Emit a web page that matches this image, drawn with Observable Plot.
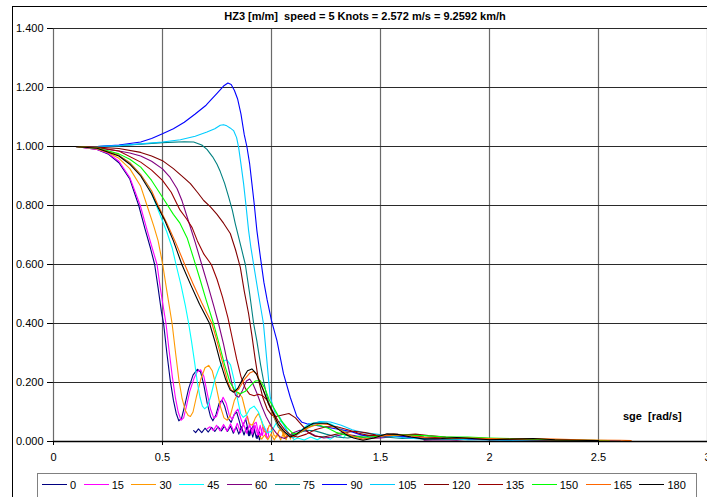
<!DOCTYPE html>
<html><head><meta charset="utf-8">
<script src="https://cdn.jsdelivr.net/npm/d3@7"></script>
<script src="https://cdn.jsdelivr.net/npm/@observablehq/plot@0.6"></script>
<style>
body{margin:0;background:#fff;font-family:"Liberation Sans",Arial,sans-serif;}
#wrap{position:relative;width:707px;height:497px;overflow:hidden;background:#fff;}
#frame{position:absolute;left:12px;top:6px;width:730px;height:530px;border:1px solid #000;box-sizing:border-box;}
#title{position:absolute;top:10px;left:0;width:730px;text-align:center;font-weight:bold;font-size:11px;color:#000;}
#chart{position:absolute;left:0;top:0;}
#xlab{position:absolute;left:623px;top:410px;font-weight:bold;font-size:11px;color:#000;}
#legend{position:absolute;left:37px;top:473px;width:660px;height:30px;border:1px solid #808080;box-sizing:border-box;background:#fff;}
#legend .row{display:flex;align-items:center;height:21px;padding-left:4px;}
#legend .item{display:flex;align-items:center;margin-right:7.5px;font-size:11px;color:#000;}
#legend .sw{width:25px;height:0;border-top:1px solid;margin-right:3px;}
</style></head>
<body>
<div id="wrap">
  <div id="frame"></div>
  <div id="chart"></div>
  <div id="title">HZ3 [m/m]&nbsp; speed = 5 Knots = 2.572 m/s = 9.2592 km/h</div>
  <div id="xlab">sge&nbsp; [rad/s]</div>
  <div id="legend"><div class="row" id="legrow"></div></div>
</div>
<script>
const headings = [0, 15, 30, 45, 60, 75, 90, 105, 120, 135, 150, 165, 180];
const colors = ["#000080","#FF00FF","#FF9900","#00FFFF","#800080","#008080","#0000FF","#00CCFF","#800000","#990000","#00FF00","#FF6600","#000000"];
const xTicks = [0, 0.5, 1, 1.5, 2, 2.5, 3];
const yTicks = [0, 0.2, 0.4, 0.6, 0.8, 1.0, 1.2, 1.4];

const s0 = [[0,1],[0.1,1],[0.2,0.99],[0.25,0.975],[0.3,0.945],[0.35,0.89],[0.391,0.80],[0.42,0.72],[0.445,0.655],[0.464,0.60],[0.48,0.52],[0.495,0.44],[0.505,0.40],[0.52,0.30],[0.535,0.21],[0.55,0.14],[0.563,0.095],[0.575,0.07],[0.588,0.08],[0.603,0.125],[0.62,0.18],[0.64,0.225],[0.66,0.245],[0.675,0.235],[0.69,0.19],[0.705,0.13],[0.72,0.085],[0.731,0.07],[0.745,0.09],[0.76,0.13],[0.773,0.14],[0.785,0.12],[0.80,0.08],[0.815,0.065],[0.828,0.09],[0.84,0.10],[0.852,0.07],[0.862,0.04],[0.872,0.06],[0.882,0.075],[0.892,0.04],[0.90,0.02],[0.91,0.045],[0.918,0.055],[0.926,0.025],[0.934,0.01],[0.942,0.035],[0.95,0.02],
 [0.945,0.005],[0.938,0.03],[0.93,0.012],[0.922,0.04],[0.914,0.015],[0.905,0.045],[0.895,0.02],[0.885,0.048],[0.874,0.022],[0.862,0.05],[0.85,0.025],[0.838,0.05],[0.825,0.028],[0.812,0.052],[0.798,0.034],[0.784,0.052],[0.77,0.036],[0.755,0.05],[0.74,0.034],[0.725,0.048],[0.71,0.032],[0.695,0.045],[0.68,0.03],[0.665,0.043],[0.652,0.03],[0.643,0.037]];
const s15 = [[0,1],[0.1,1],[0.2,0.99],[0.25,0.977],[0.3,0.95],[0.35,0.895],[0.398,0.80],[0.43,0.715],[0.455,0.65],[0.475,0.60],[0.49,0.52],[0.505,0.45],[0.516,0.40],[0.53,0.31],[0.545,0.22],[0.56,0.145],[0.572,0.10],[0.585,0.072],[0.597,0.08],[0.61,0.12],[0.625,0.17],[0.645,0.215],[0.66,0.237],[0.675,0.243],[0.69,0.22],[0.705,0.165],[0.72,0.11],[0.735,0.08],[0.748,0.085],[0.762,0.12],[0.778,0.15],[0.792,0.13],[0.806,0.09],[0.82,0.075],[0.834,0.10],[0.846,0.11],[0.858,0.08],[0.87,0.055],[0.88,0.075],[0.89,0.085],[0.90,0.05],[0.91,0.035],[0.92,0.06],[0.93,0.065],[0.94,0.03],[0.95,0.02],[0.96,0.05],[0.97,0.04],[0.98,0.01],[0.987,0.02],
 [0.982,0.045],[0.975,0.015],[0.967,0.05],[0.958,0.02],[0.948,0.055],[0.937,0.02],[0.925,0.055],[0.912,0.025],[0.90,0.06],[0.886,0.028],[0.872,0.06],[0.858,0.03],[0.843,0.062],[0.828,0.032],[0.812,0.06],[0.796,0.035],[0.78,0.058],[0.764,0.036],[0.748,0.055],[0.733,0.037],[0.718,0.05],[0.705,0.043]];
const s30 = [[0,1],[0.1,1],[0.2,0.992],[0.25,0.98],[0.3,0.96],[0.35,0.925],[0.4,0.865],[0.429,0.80],[0.46,0.73],[0.48,0.68],[0.501,0.60],[0.52,0.51],[0.544,0.40],[0.56,0.30],[0.575,0.21],[0.59,0.145],[0.605,0.105],[0.618,0.088],[0.628,0.085],[0.64,0.10],[0.655,0.15],[0.675,0.21],[0.695,0.25],[0.712,0.258],[0.728,0.24],[0.745,0.19],[0.765,0.12],[0.782,0.08],[0.797,0.072],[0.812,0.09],[0.83,0.14],[0.848,0.165],[0.865,0.15],[0.882,0.10],[0.898,0.06],[0.912,0.055],[0.926,0.08],[0.94,0.095],[0.954,0.07],[0.966,0.035],[0.978,0.03],[0.99,0.055],[1.0,0.05],[1.012,0.02],[1.024,0.015],[1.036,0.04],[1.048,0.035],[1.06,0.01],[1.075,0.025],[1.09,0.02],[1.10,0.01],
 [1.095,0.03],[1.087,0.008],[1.078,0.03],[1.067,0.006],[1.055,0.03],[1.042,0.005],[1.028,0.028],[1.013,0.005],[0.998,0.025],[0.983,0.006],[0.968,0.022],[0.955,0.008],[0.945,0.018]];
const s45 = [[0,1],[0.1,1],[0.2,0.993],[0.25,0.985],[0.3,0.97],[0.35,0.945],[0.4,0.905],[0.44,0.86],[0.48,0.785],[0.52,0.71],[0.545,0.655],[0.562,0.60],[0.585,0.53],[0.605,0.46],[0.62,0.40],[0.633,0.34],[0.647,0.27],[0.66,0.20],[0.672,0.15],[0.683,0.12],[0.693,0.111],[0.705,0.118],[0.72,0.15],[0.74,0.21],[0.76,0.25],[0.778,0.272],[0.795,0.277],[0.812,0.26],[0.828,0.21],[0.845,0.14],[0.858,0.095],[0.87,0.082],[0.885,0.09],[0.90,0.11],[0.92,0.12],[0.94,0.10],[0.96,0.06],[0.98,0.03],[1.0,0.035],[1.02,0.06],[1.04,0.07],[1.06,0.055],[1.08,0.025],[1.10,0.015],[1.13,0.035],[1.17,0.06],[1.22,0.065],[1.27,0.06],[1.31,0.045],[1.35,0.03],
 [1.33,0.012],[1.30,0.022],[1.27,0.008],[1.24,0.018],[1.21,0.006],[1.18,0.015],[1.15,0.005],[1.12,0.012],[1.10,0.005]];
const s60 = [[0,1],[0.1,1],[0.2,0.996],[0.25,0.99],[0.3,0.985],[0.35,0.978],[0.4,0.968],[0.45,0.95],[0.5,0.924],[0.535,0.895],[0.567,0.857],[0.59,0.815],[0.62,0.745],[0.65,0.675],[0.68,0.60],[0.71,0.525],[0.735,0.46],[0.757,0.40],[0.78,0.33],[0.80,0.26],[0.82,0.19],[0.835,0.157],[0.85,0.15],[0.865,0.17],[0.885,0.205],[0.90,0.212],[0.915,0.195],[0.935,0.16],[0.955,0.12],[0.975,0.085],[1.0,0.05],[1.02,0.03],[1.04,0.015],[1.06,0.01],[1.08,0.02],[1.10,0.03],[1.13,0.038],[1.16,0.035],[1.2,0.02],[1.24,0.012],[1.28,0.015],[1.33,0.025],[1.38,0.02],[1.44,0.01],[1.5,0.012],[1.58,0.018],[1.65,0.012],[1.75,0.008],[1.85,0.01],[1.9,0.008],
 [1.85,0.004],[1.78,0.006],[1.7,0.004]];
const s75 = [[0,1],[0.1,1],[0.2,1.0],[0.3,1.003],[0.4,1.008],[0.5,1.013],[0.6,1.016],[0.643,1.015],[0.68,1.005],[0.704,0.99],[0.73,0.965],[0.75,0.94],[0.765,0.915],[0.785,0.875],[0.803,0.83],[0.82,0.785],[0.834,0.738],[0.85,0.69],[0.865,0.645],[0.88,0.60],[0.90,0.50],[0.918,0.40],[0.933,0.34],[0.95,0.26],[0.965,0.2],[0.98,0.15],[0.994,0.116],[1.01,0.085],[1.03,0.05],[1.05,0.035],[1.07,0.026],[1.09,0.022],[1.12,0.028],[1.16,0.038],[1.2,0.036],[1.25,0.025],[1.3,0.015],[1.35,0.012],[1.4,0.018],[1.46,0.022],[1.52,0.015],[1.6,0.01],[1.7,0.012],[1.8,0.008],[1.9,0.006],[2.0,0.008],[2.1,0.005]];
const s90 = [[0,1],[0.1,1],[0.2,1.0],[0.3,1.005],[0.4,1.015],[0.45,1.027],[0.5,1.043],[0.55,1.06],[0.6,1.082],[0.65,1.11],[0.7,1.14],[0.72,1.156],[0.75,1.18],[0.78,1.205],[0.80,1.215],[0.815,1.21],[0.83,1.19],[0.845,1.16],[0.86,1.11],[0.875,1.04],[0.887,1.00],[0.90,0.94],[0.91,0.875],[0.92,0.81],[0.933,0.715],[0.95,0.62],[0.965,0.54],[0.98,0.48],[1.0,0.41],[1.025,0.342],[1.055,0.23],[1.086,0.15],[1.116,0.085],[1.14,0.065],[1.162,0.06],[1.2,0.055],[1.24,0.05],[1.28,0.045],[1.32,0.04],[1.36,0.035],[1.4,0.025],[1.45,0.015],[1.5,0.015],[1.55,0.02],[1.6,0.018],[1.7,0.01],[1.8,0.012],[1.9,0.008],[2.0,0.006],[2.2,0.005],[2.4,0.003],[2.6,0.002]];
const s105 = [[0,1],[0.1,1],[0.2,1.0],[0.3,1.003],[0.4,1.009],[0.5,1.015],[0.582,1.023],[0.65,1.035],[0.704,1.049],[0.74,1.06],[0.765,1.072],[0.78,1.074],[0.795,1.07],[0.81,1.063],[0.826,1.054],[0.84,1.03],[0.849,0.998],[0.86,0.94],[0.872,0.874],[0.883,0.80],[0.895,0.715],[0.905,0.66],[0.918,0.60],[0.94,0.50],[0.963,0.40],[0.978,0.28],[0.994,0.15],[1.015,0.10],[1.04,0.08],[1.06,0.05],[1.08,0.02],[1.1,0.012],[1.13,0.03],[1.17,0.055],[1.22,0.068],[1.27,0.066],[1.32,0.055],[1.37,0.04],[1.42,0.03],[1.48,0.025],[1.55,0.018],[1.62,0.012],[1.7,0.008],[1.8,0.01],[1.9,0.006],[2.0,0.005],[2.2,0.004],[2.4,0.003]];
const s120 = [[0,1],[0.1,1],[0.2,0.998],[0.3,0.993],[0.4,0.98],[0.45,0.968],[0.5,0.952],[0.55,0.925],[0.6,0.893],[0.628,0.874],[0.66,0.845],[0.689,0.817],[0.72,0.795],[0.75,0.77],[0.78,0.74],[0.811,0.705],[0.835,0.65],[0.857,0.59],[0.875,0.51],[0.895,0.433],[0.91,0.36],[0.925,0.28],[0.94,0.21],[0.96,0.15],[0.98,0.11],[1.0,0.09],[1.02,0.085],[1.05,0.09],[1.08,0.095],[1.11,0.08],[1.14,0.055],[1.17,0.03],[1.2,0.018],[1.24,0.015],[1.28,0.022],[1.33,0.03],[1.38,0.035],[1.43,0.03],[1.48,0.022],[1.54,0.02],[1.6,0.022],[1.66,0.025],[1.72,0.02],[1.8,0.015],[1.9,0.012],[2.0,0.01],[2.1,0.008],[2.2,0.006],[2.35,0.004],[2.5,0.003]];
const s135 = [[0,1],[0.1,1],[0.2,0.997],[0.3,0.985],[0.4,0.947],[0.45,0.92],[0.5,0.885],[0.54,0.845],[0.58,0.785],[0.61,0.755],[0.636,0.725],[0.66,0.68],[0.69,0.635],[0.724,0.60],[0.75,0.55],[0.775,0.49],[0.80,0.42],[0.82,0.35],[0.84,0.28],[0.86,0.22],[0.88,0.18],[0.90,0.16],[0.92,0.155],[0.94,0.16],[0.96,0.155],[0.98,0.14],[1.0,0.11],[1.03,0.07],[1.06,0.04],[1.09,0.02],[1.12,0.015],[1.16,0.025],[1.2,0.04],[1.25,0.05],[1.3,0.05],[1.35,0.04],[1.4,0.028],[1.45,0.02],[1.5,0.02],[1.56,0.025],[1.62,0.022],[1.7,0.015],[1.8,0.012],[1.9,0.01],[2.0,0.008],[2.1,0.007],[2.2,0.006],[2.35,0.004],[2.5,0.003]];
const s150 = [[0,1],[0.1,1],[0.2,0.995],[0.3,0.975],[0.35,0.957],[0.4,0.93],[0.45,0.885],[0.5,0.828],[0.55,0.77],[0.58,0.74],[0.613,0.69],[0.643,0.62],[0.67,0.555],[0.70,0.48],[0.734,0.40],[0.76,0.33],[0.785,0.26],[0.81,0.2],[0.835,0.17],[0.857,0.162],[0.88,0.17],[0.905,0.19],[0.925,0.205],[0.948,0.207],[0.97,0.18],[0.99,0.14],[1.009,0.116],[1.04,0.075],[1.07,0.048],[1.10,0.026],[1.13,0.03],[1.16,0.045],[1.19,0.055],[1.22,0.055],[1.26,0.045],[1.3,0.03],[1.35,0.02],[1.4,0.015],[1.45,0.015],[1.52,0.02],[1.6,0.022],[1.7,0.02],[1.8,0.015],[1.9,0.015],[2.0,0.012],[2.1,0.01],[2.2,0.008],[2.3,0.006],[2.45,0.004],[2.55,0.003]];
const s165 = [[0,1],[0.1,1],[0.2,0.994],[0.3,0.97],[0.35,0.945],[0.4,0.905],[0.45,0.85],[0.48,0.80],[0.52,0.74],[0.56,0.675],[0.602,0.60],[0.64,0.535],[0.68,0.47],[0.727,0.40],[0.75,0.34],[0.775,0.27],[0.80,0.2],[0.815,0.175],[0.832,0.168],[0.85,0.178],[0.875,0.21],[0.9,0.232],[0.918,0.238],[0.935,0.225],[0.96,0.18],[0.985,0.13],[1.01,0.085],[1.04,0.045],[1.07,0.02],[1.09,0.015],[1.12,0.025],[1.15,0.04],[1.18,0.05],[1.22,0.06],[1.26,0.058],[1.3,0.045],[1.34,0.03],[1.38,0.015],[1.42,0.008],[1.47,0.012],[1.52,0.02],[1.58,0.022],[1.65,0.018],[1.72,0.012],[1.8,0.01],[1.9,0.012],[2.0,0.01],[2.1,0.008],[2.2,0.01],[2.3,0.008],[2.45,0.005],[2.6,0.004],[2.65,0.003]];
const s180 = [[0,1],[0.1,1],[0.2,0.994],[0.3,0.968],[0.35,0.94],[0.4,0.9],[0.45,0.84],[0.475,0.80],[0.51,0.75],[0.55,0.68],[0.589,0.60],[0.63,0.53],[0.67,0.465],[0.716,0.40],[0.74,0.34],[0.765,0.27],[0.79,0.21],[0.81,0.175],[0.826,0.167],[0.845,0.18],[0.87,0.215],[0.89,0.24],[0.91,0.246],[0.93,0.23],[0.963,0.173],[0.985,0.13],[1.009,0.094],[1.03,0.06],[1.055,0.037],[1.086,0.015],[1.115,0.025],[1.147,0.043],[1.192,0.062],[1.254,0.062],[1.29,0.05],[1.315,0.037],[1.35,0.02],[1.376,0.012],[1.42,0.004],[1.47,0.012],[1.53,0.026],[1.58,0.024],[1.64,0.015],[1.7,0.008],[1.78,0.01],[1.85,0.013],[1.92,0.01],[2.0,0.006],[2.1,0.008],[2.2,0.01],[2.3,0.006],[2.4,0.004],[2.5,0.003]];

const seriesValues = [s0, s15, s30, s45, s60, s75, s90, s105, s120, s135, s150, s165, s180];

const data = [];
headings.forEach((h, i) => seriesValues[i].forEach(([x, y], k) => data.push({h: String(h), x, y, k})));

const chart = Plot.plot({
  width: 707, height: 470,
  marginLeft: 53, marginRight: 0, marginTop: 28, marginBottom: 29,
  style: {fontFamily: '"Liberation Sans", Arial, sans-serif', fontSize: "11px", color: "#000", background: "transparent", overflow: "visible"},
  x: {domain: [0, 3], ticks: xTicks, tickFormat: d => String(d), tickSize: 4, tickPadding: 8, label: null},
  y: {domain: [0, 1.4], ticks: yTicks, tickFormat: d3.format(".3f"), tickSize: 6, tickPadding: 4, label: null},
  color: {type: "ordinal", domain: headings.map(String), range: colors},
  marks: [
    Plot.ruleX(xTicks, {stroke: "#6a6a6a", strokeWidth: 1.2}),
    Plot.ruleY(yTicks, {stroke: "#2a2a2a", strokeWidth: 1}),
    Plot.line(data, {x: "x", y: "y", z: "h", stroke: "h", strokeWidth: 1.1}),
    Plot.ruleY([0], {stroke: "#000", strokeWidth: 1.3})
  ]
});
document.getElementById("chart").appendChild(chart);

const row = document.getElementById("legrow");
headings.forEach((h, i) => {
  const it = document.createElement("div");
  it.className = "item";
  const sw = document.createElement("span");
  sw.className = "sw";
  sw.style.borderTopColor = colors[i];
  const t = document.createElement("span");
  t.textContent = String(h);
  it.appendChild(sw); it.appendChild(t);
  row.appendChild(it);
});
</script>
</body></html>
